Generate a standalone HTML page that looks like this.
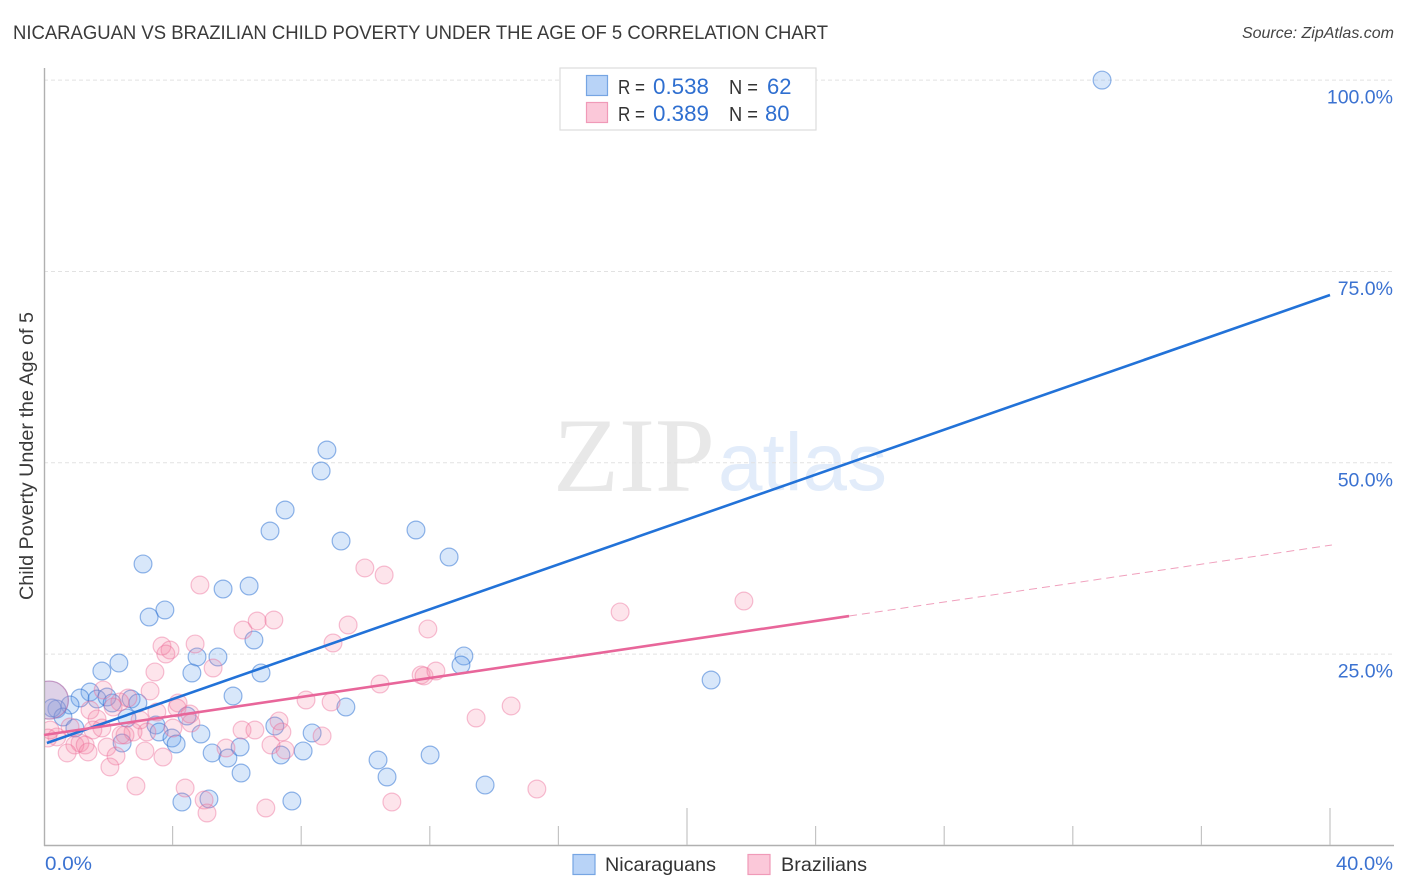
<!DOCTYPE html>
<html lang="en">
<head>
<meta charset="utf-8">
<title>Nicaraguan vs Brazilian Child Poverty Correlation Chart</title>
<style>
html,body{margin:0;padding:0;background:#fff;width:1406px;height:892px;overflow:hidden}
svg{display:block}
text{font-family:"Liberation Sans",sans-serif}
</style>
</head>
<body>
<svg id="chart" width="1406" height="892" viewBox="0 0 1406 892" xmlns="http://www.w3.org/2000/svg">
  <defs><clipPath id="plot-clip"><rect x="45" y="60" width="1349" height="786"/></clipPath></defs>
  <text x="13" y="39" font-size="19.5" fill="#3a3a3a" textLength="815" lengthAdjust="spacingAndGlyphs">NICARAGUAN VS BRAZILIAN CHILD POVERTY UNDER THE AGE OF 5 CORRELATION CHART</text>
  <text x="1394" y="38" font-size="16" font-style="italic" fill="#444" text-anchor="end">Source: ZipAtlas.com</text>
  <g>
    <text x="553" y="491" style="font-family:'Liberation Serif',serif" font-size="106" fill="#e8e8e8" textLength="162" lengthAdjust="spacingAndGlyphs">ZIP</text>
    <text x="718" y="490" font-size="82" fill="#e2ecfa" textLength="169" lengthAdjust="spacingAndGlyphs">atlas</text>
  </g>
  <g id="grid"></g>
  <g id="axes"></g>
  <g id="points-blue" clip-path="url(#plot-clip)"></g>
  <g id="points-pink" clip-path="url(#plot-clip)"></g>
  <g id="trends"></g>
  <text transform="translate(33,456) rotate(-90)" font-size="19.5" fill="#3a3a3a" text-anchor="middle" textLength="288" lengthAdjust="spacingAndGlyphs">Child Poverty Under the Age of 5</text>
  <g>
    <rect x="560" y="68" width="256" height="62" fill="#fff" stroke="#ddd" stroke-width="1.2"/>
    <rect x="586.5" y="75.5" width="21" height="20" fill="#b8d3f7" stroke="#76a5e3" stroke-width="1.2"/>
    <rect x="586.5" y="102.5" width="21" height="20" fill="#fbc8d9" stroke="#f09ab8" stroke-width="1.2"/>
    <text x="618" y="94" font-size="20" fill="#333" textLength="27" lengthAdjust="spacingAndGlyphs">R =</text>
    <text x="653" y="94" font-size="22" fill="#2f6fd0" textLength="56" lengthAdjust="spacingAndGlyphs">0.538</text>
    <text x="729" y="94" font-size="20" fill="#333" textLength="29" lengthAdjust="spacingAndGlyphs">N =</text>
    <text x="767" y="94" font-size="22" fill="#2f6fd0">62</text>
    <text x="618" y="121" font-size="20" fill="#333" textLength="27" lengthAdjust="spacingAndGlyphs">R =</text>
    <text x="653" y="121" font-size="22" fill="#2f6fd0" textLength="56" lengthAdjust="spacingAndGlyphs">0.389</text>
    <text x="729" y="121" font-size="20" fill="#333" textLength="29" lengthAdjust="spacingAndGlyphs">N =</text>
    <text x="765" y="121" font-size="22" fill="#2f6fd0">80</text>
  </g>
  <g>
    <rect x="573" y="854.5" width="22" height="20" fill="#b8d3f7" stroke="#76a5e3" stroke-width="1.2"/>
    <text x="605" y="871" font-size="19.5" fill="#333" textLength="111" lengthAdjust="spacingAndGlyphs">Nicaraguans</text>
    <rect x="748" y="854.5" width="22" height="20" fill="#fbc8d9" stroke="#f09ab8" stroke-width="1.2"/>
    <text x="781" y="871" font-size="19.5" fill="#333" textLength="86" lengthAdjust="spacingAndGlyphs">Brazilians</text>
  </g>
</svg>
<script>
const xTickValues = [0, 4, 8, 12, 16, 20, 24, 28, 32, 36, 40];
const xMajorTicks = [20, 40];
const xEdgeLabels = [0, 40];
const xEdgeLabelText = ['0.0%', '40.0%'];
const yTickValues = [25, 50, 75, 100];
const yTickLabels = ['25.0%', '50.0%', '75.0%', '100.0%'];

const nicaraguansX = [32.91,8.80,8.62,7.50,7.03,9.24,11.57,12.60,3.08,3.76,3.27,5.57,6.38,6.53,4.76,5.41,4.60,6.75,2.33,1.80,13.06,12.97,20.75,5.88,9.39,1.43,1.12,0.81,1.65,1.96,2.12,2.71,2.92,0.40,0.25,0.59,2.58,0.96,3.48,3.58,4.45,3.98,4.11,4.88,2.43,5.23,5.72,6.10,6.13,7.18,7.37,8.06,8.34,10.39,12.01,10.67,13.72,4.29,5.13,7.71];
const nicaraguansY = [100.0,51.67,48.93,43.83,41.09,39.78,41.22,37.69,36.78,30.77,29.85,33.51,33.90,26.85,24.63,24.63,22.54,22.54,23.84,22.80,24.76,23.58,21.62,19.53,18.09,20.05,19.27,18.36,19.14,19.40,18.62,19.14,18.62,17.83,17.96,16.79,16.66,15.35,15.74,14.83,16.92,14.04,13.26,14.57,13.39,12.09,11.43,12.87,9.47,15.61,11.82,12.35,14.70,11.17,11.82,8.95,7.90,5.68,6.08,5.81];
const braziliansX = [3.67,3.92,3.79,4.70,5.26,3.45,3.30,1.84,2.61,2.36,1.43,1.65,2.15,3.51,4.17,4.14,4.54,4.57,2.99,4.01,3.20,2.77,2.52,2.40,1.80,1.52,0.81,0.40,0.19,0.12,1.12,0.96,1.28,0.72,1.37,1.96,2.24,2.05,3.14,3.70,2.86,4.39,4.98,5.07,5.66,6.16,6.56,7.31,7.40,7.06,7.50,6.90,8.15,8.65,8.93,4.85,9.98,10.58,6.19,6.63,7.15,9.46,8.99,11.94,17.92,21.77,11.73,11.82,12.19,10.45,13.44,14.53,15.33,10.82];
const braziliansY = [26.06,25.54,25.02,26.33,23.19,22.67,20.19,20.32,19.27,18.75,17.70,16.53,18.09,17.44,18.62,17.96,17.18,16.00,16.40,15.35,14.83,14.83,14.44,14.44,15.35,15.09,15.48,14.18,15.09,14.04,13.39,13.13,13.13,12.09,12.22,12.87,11.69,10.26,12.35,11.56,7.77,7.51,5.94,4.25,12.74,15.09,15.09,16.27,14.83,13.13,12.48,4.90,19.01,14.31,18.75,34.03,36.26,35.34,28.15,29.33,29.46,28.81,26.46,28.29,30.51,31.94,22.28,22.15,22.80,21.10,16.66,18.23,7.38,5.68];
const largeSampleX = [0.09];
const largeSampleY = [19.0];

const nicaraguansTrendX = [0.09, 40];
const nicaraguansTrendY = [13.39, 71.92];
const braziliansTrendX = [0, 25.04];
const braziliansTrendY = [14.44, 29.98];
const braziliansProjectionX = [25.04, 40.06];
const braziliansProjectionY = [29.98, 39.26];

const SVG_NS = 'http://www.w3.org/2000/svg';
function xScale(v) { return 44 + v * (1286 / 40); }
function yScale(v) { return 845.5 - v * 7.654; }
function make(tag, attrs, parent) {
  const el = document.createElementNS(SVG_NS, tag);
  for (const k in attrs) el.setAttribute(k, attrs[k]);
  parent.appendChild(el);
  return el;
}

const grid = document.getElementById('grid');
const axes = document.getElementById('axes');
const blue = document.getElementById('points-blue');
const pink = document.getElementById('points-pink');
const trends = document.getElementById('trends');

yTickValues.forEach(function (v, i) {
  const line = make('line', {x1: 44, x2: 1394, y1: yScale(v), y2: yScale(v), stroke: '#e2e2e2', 'stroke-width': 1, 'stroke-dasharray': '4 3'}, grid);
  
  
  const label = make('text', {x: 1393, y: yScale(v) + 23.5, 'font-size': 19.5, fill: '#3b72d1', 'text-anchor': 'end'}, axes);
  
  
  label.textContent = yTickLabels[i];
});

const yAxis = make('line', {x1: 44.5, x2: 44.5, y1: 68, y2: 846, stroke: '#b0b0b0', 'stroke-width': 1.4}, axes);


const xAxis = make('line', {x1: 44, x2: 1394, y1: 845.5, y2: 845.5, stroke: '#b0b0b0', 'stroke-width': 1.4}, axes);



xTickValues.forEach(function (v) {
  if (v === 0) return;
  const top = xMajorTicks.indexOf(v) >= 0 ? 808 : 826;
  const tick = make('line', {x1: xScale(v), x2: xScale(v), y1: top, y2: 845, stroke: '#c4c4c4', 'stroke-width': 1.2}, axes);
  
  
});

xEdgeLabels.forEach(function (v, i) {
  const label = make('text', {x: i === 0 ? xScale(v) + 1 : 1336, y: 870, 'font-size': 19.5, fill: '#3b72d1', textLength: i === 0 ? 47 : 57, lengthAdjust: 'spacingAndGlyphs'}, axes);
  
  
  label.textContent = xEdgeLabelText[i];
});

nicaraguansX.forEach(function (v, i) {
  const c = make('circle', {cx: xScale(v), cy: yScale(nicaraguansY[i]), r: 8.9, fill: 'rgba(110,165,235,0.27)', stroke: 'rgba(40,110,210,0.5)', 'stroke-width': 1.2}, blue);
  
  
});
largeSampleX.forEach(function (v, i) {
  const c = make('circle', {cx: xScale(v) + 2.5, cy: yScale(largeSampleY[i]), r: 19, fill: 'rgba(110,165,235,0.27)', stroke: 'rgba(40,110,210,0.4)', 'stroke-width': 1.2}, blue);
  
  
});
braziliansX.forEach(function (v, i) {
  const c = make('circle', {cx: xScale(v), cy: yScale(braziliansY[i]), r: 8.9, fill: 'rgba(245,130,165,0.22)', stroke: 'rgba(235,105,150,0.42)', 'stroke-width': 1.2}, pink);
  
  
});
largeSampleX.forEach(function (v, i) {
  const c = make('circle', {cx: xScale(v) + 2.5, cy: yScale(largeSampleY[i]), r: 19, fill: 'rgba(245,130,165,0.22)', stroke: 'rgba(235,105,150,0.42)', 'stroke-width': 1.2}, pink);
  
  
});

const blueTrend = make('line', {x1: xScale(nicaraguansTrendX[0]), y1: yScale(nicaraguansTrendY[0]), x2: xScale(nicaraguansTrendX[1]), y2: yScale(nicaraguansTrendY[1]), stroke: '#2272d8', 'stroke-width': 2.6}, trends);


const pinkTrend = make('line', {x1: xScale(braziliansTrendX[0]), y1: yScale(braziliansTrendY[0]), x2: xScale(braziliansTrendX[1]), y2: yScale(braziliansTrendY[1]), stroke: '#e8669a', 'stroke-width': 2.6}, trends);


const pinkProjection = make('line', {x1: xScale(braziliansProjectionX[0]), y1: yScale(braziliansProjectionY[0]), x2: xScale(braziliansProjectionX[1]), y2: yScale(braziliansProjectionY[1]), stroke: '#f0a0bd', 'stroke-width': 1, 'stroke-dasharray': '8 5'}, trends);


</script>
</body>
</html>
